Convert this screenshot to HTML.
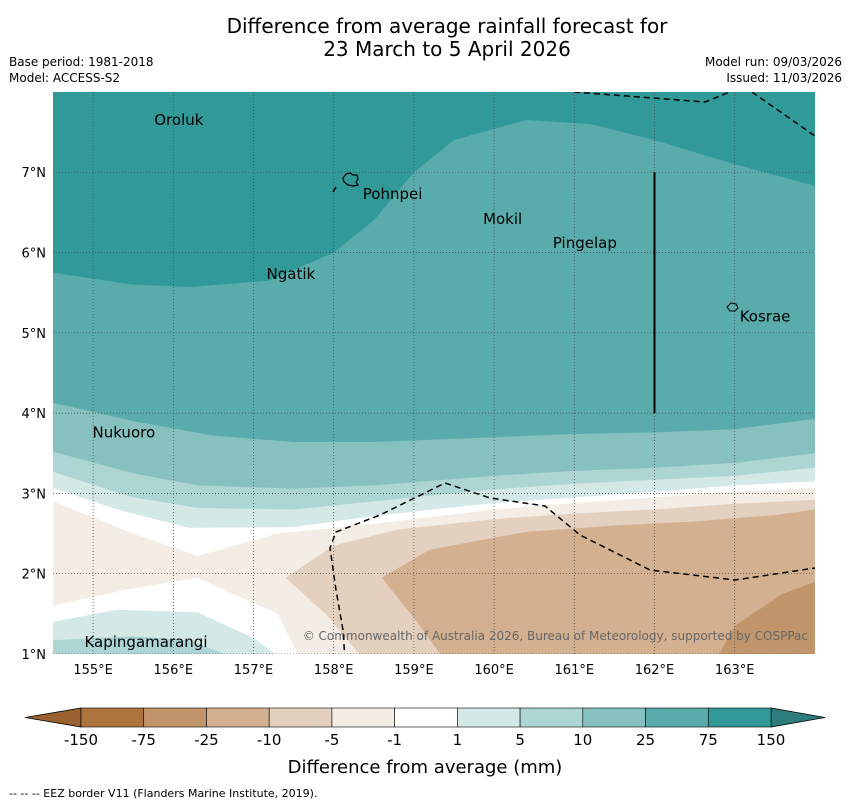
<!DOCTYPE html>
<html><head><meta charset="utf-8">
<style>
body{margin:0;background:#fff;font-family:"DejaVu Sans","Liberation Sans",sans-serif;}
svg text{font-family:"DejaVu Sans","Liberation Sans",sans-serif;}
</style></head>
<body>
<svg width="850" height="804" viewBox="0 0 850 804" xmlns="http://www.w3.org/2000/svg">
<text x="447" y="33" font-size="20" text-anchor="middle">Difference from average rainfall forecast for</text>
<text x="447" y="56" font-size="20" text-anchor="middle">23 March to 5 April 2026</text>
<text x="9" y="66" font-size="12">Base period: 1981-2018</text>
<text x="9" y="82" font-size="12">Model: ACCESS-S2</text>
<text x="842" y="66" font-size="12" text-anchor="end">Model run: 09/03/2026</text>
<text x="842" y="82" font-size="12" text-anchor="end">Issued: 11/03/2026</text>
<defs><clipPath id="mc"><rect x="53" y="92" width="762" height="562"/></clipPath></defs>
<g id="map" clip-path="url(#mc)"></g>
<g id="axes"></g>
<g id="cbar"></g>
<text x="425" y="773" font-size="18" text-anchor="middle">Difference from average (mm)</text>
<text x="9" y="797" font-size="11">--  --  -- EEZ border V11 (Flanders Marine Institute, 2019).</text>
</svg>
<script>
// ---- data ----
const lonTicks=[155,156,157,158,159,160,161,162,163];
const latTicks=[1,2,3,4,5,6,7];
const levelLabels=["-150","-75","-25","-10","-5","-1","1","5","10","25","75","150"];
const levelColors=["#ad733d","#c0956a","#d3b190","#e4d0bf","#f3ede6","#ffffff","#d4e8e6","#acd5d3","#86c1bf","#5aabab","#319a98"];
// positive contour boundaries (region north of line), [lon,lat]
const bound1=[[154.5,3.07],[155.3,2.8],[156.2,2.57],[157.5,2.58],[158.5,2.72],[160,2.88],[161,2.95],[162,3.02],[163,3.1],[164,3.15]];
const bound5=[[154.5,3.27],[155.5,2.95],[156.3,2.82],[157.5,2.8],[158.5,2.9],[160,3.05],[161,3.12],[162,3.17],[163,3.22],[164,3.32]];
const bound10=[[154.5,3.52],[155.5,3.25],[156.3,3.1],[157.5,3.06],[158.5,3.1],[160,3.22],[161,3.28],[162,3.32],[163,3.38],[164,3.5]];
const bound25=[[154.5,4.13],[155.5,3.9],[156.5,3.72],[157.5,3.64],[158.5,3.64],[160,3.7],[161,3.74],[162,3.76],[163,3.8],[164,3.93]];
const bound75=[[154.5,5.75],[155.5,5.6],[156.2,5.57],[157.2,5.65],[158,6.0],[158.5,6.4],[159.0,7.0],[159.5,7.4],[160.4,7.65],[161.2,7.6],[162,7.4],[163,7.1],[164,6.83]];
// negative regions (closed polygons)
const polyNeg1=[[154.5,2.9],[155.5,2.5],[156.3,2.22],[157.3,2.5],[158.5,2.62],[160,2.8],[161,2.88],[162,2.95],[163,3.02],[164,3.07],[164,0.9],[157.6,0.9],[157.3,1.5],[156.3,1.95],[155.5,1.82],[154.5,1.6]];
const polyNeg5=[[157.4,1.95],[158,2.35],[158.8,2.55],[160,2.68],[161,2.75],[162,2.8],[163,2.87],[164,2.92],[164,0.9],[158.4,0.9],[157.9,1.5]];
const polyNeg10=[[158.6,1.95],[159.2,2.3],[160.4,2.52],[161.5,2.6],[162.5,2.65],[163.5,2.73],[164,2.8],[164,0.9],[159.4,0.9],[159.0,1.45]];
const polyNeg25=[[162.75,0.9],[163.0,1.35],[163.6,1.75],[164,1.9],[164,0.9]];
const polyPos1SW=[[154.5,1.4],[155.3,1.55],[156.3,1.52],[157,1.2],[157.4,0.9],[154.5,0.9]];
const polyPos5SW=[[154.5,1.17],[155.5,1.22],[156.2,1.17],[156.9,0.9],[154.5,0.9]];
const places=["Oroluk","Pohnpei","Mokil","Pingelap","Ngatik","Kosrae","Nukuoro","Kapingamarangi"];
const placeLon=[155.75,158.35,159.85,160.72,157.15,163.05,154.98,154.88];
const placeLat=[7.65,6.73,6.42,6.12,5.73,5.2,3.76,1.15];
// ---- axes ----
const X=lon=>53+(lon-154.5)*80.2;
const Y=lat=>654-(lat-1)*80.3;
const NS="http://www.w3.org/2000/svg";
const map=document.getElementById('map'),axes=document.getElementById('axes'),cb=document.getElementById('cbar');
function mk(t,a,p){const e=document.createElementNS(NS,t);for(const k in a)e.setAttribute(k,a[k]);p.appendChild(e);return e;}
const pts=arr=>arr.map(p=>X(p[0]).toFixed(1)+','+Y(p[1]).toFixed(1)).join(' ');
const north=arr=>pts([[154.4,8.2],...arr,[164.1,8.2]]);
let bg=mk('rect',{x:53,y:92,width:762,height:562,fill:'#fff'},map);


const layers=[[north(bound1),6,'contour-1-5'],[north(bound5),7,'contour-5-10'],[north(bound10),8,'contour-10-25'],[north(bound25),9,'contour-25-75'],[north(bound75),10,'contour-75-150'],
[pts(polyNeg1),4,'contour-neg1-neg5'],[pts(polyNeg5),3,'contour-neg5-neg10'],[pts(polyNeg10),2,'contour-neg10-neg25'],[pts(polyNeg25),1,'contour-neg25-neg75'],
[pts(polyPos1SW),6,'contour-sw-1-5'],[pts(polyPos5SW),7,'contour-sw-5-10']];
layers.forEach(l=>{const e=mk('polygon',{points:l[0],fill:levelColors[l[1]]},map);

});
// grid
lonTicks.forEach(v=>{const e=mk('line',{x1:X(v),x2:X(v),y1:92,y2:654,stroke:'#444','stroke-width':0.7,'stroke-dasharray':'1,2'},map);


const t=mk('text',{x:X(v),y:674,'font-size':13,'text-anchor':'middle'},axes);t.textContent=v+'°E';

});
latTicks.forEach(v=>{const e=mk('line',{x1:53,x2:815,y1:Y(v),y2:Y(v),stroke:'#444','stroke-width':0.7,'stroke-dasharray':'1,2'},map);


const t=mk('text',{x:46,y:Y(v)+5,'font-size':13,'text-anchor':'end'},axes);t.textContent=v+'°N';

});
// EEZ borders
[["574,92 705,102 740,88"],["752,92 815,136"],["345,660 343,630 336,590 330,548 336,532 380,515 445,483 490,498 545,506 580,535 650,570 735,580 815,568"],["333,192 336,187"]].forEach(p=>{
const e=mk('polyline',{points:p[0],fill:'none',stroke:'#000','stroke-width':1.5,'stroke-dasharray':'6,4'},map);

});
let vl=mk('line',{x1:X(162),x2:X(162),y1:Y(7),y2:Y(4),stroke:'#000','stroke-width':2},map);


let pi=mk('path',{d:'M343,178 l3,-4 4,-1 3,2 4,0 1,4 -2,3 2,3 -4,1 -6,-1 -4,-3z',fill:'none',stroke:'#000','stroke-width':1.2},map);


let ki=mk('path',{d:'M727,307 l4,-4 5,1 2,4 -3,3 -5,0z',fill:'none',stroke:'#000','stroke-width':1},map);


places.forEach((n,i)=>{const t=mk('text',{x:X(placeLon[i])+1,y:Y(placeLat[i])+5,'font-size':15},map);t.textContent=n;

});
let cr=mk('text',{x:808,y:640,'font-size':12,'text-anchor':'end',fill:'#666'},map);cr.textContent='© Commonwealth of Australia 2026, Bureau of Meteorology, supported by COSPPac';


// colorbar
const cbx0=81,cbx1=771,cbw=(cbx1-cbx0)/levelColors.length,cy=708,ch=19;
let lt=mk('polygon',{points:`${cbx0},${cy} ${cbx0},${cy+ch} 25,${cy+ch/2}`,fill:'#9a6230',stroke:'#000','stroke-width':0.8},cb);


let rt=mk('polygon',{points:`${cbx1},${cy} ${cbx1},${cy+ch} 825,${cy+ch/2}`,fill:'#2e7c7b',stroke:'#000','stroke-width':0.8},cb);


levelColors.forEach((c,i)=>{const r=mk('rect',{x:cbx0+i*cbw,y:cy,width:cbw,height:ch,fill:c,stroke:'#000','stroke-width':0.6},cb);

});
levelLabels.forEach((l,i)=>{const t=mk('text',{x:cbx0+i*cbw,y:745,'font-size':15,'text-anchor':'middle'},cb);t.textContent=l;

});
</script>
</body></html>
